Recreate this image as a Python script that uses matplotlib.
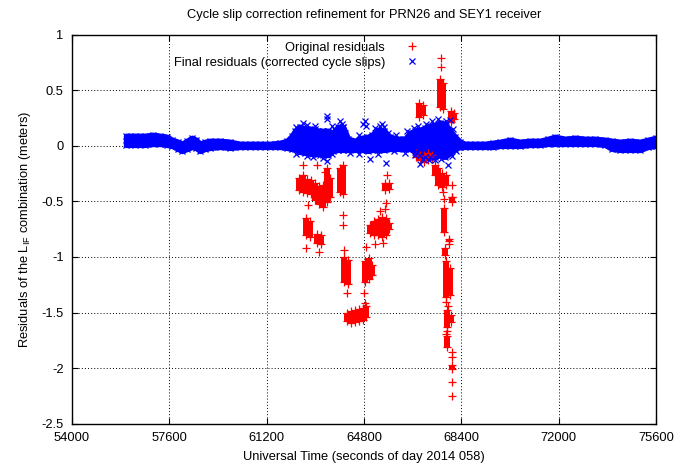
import numpy as np
import matplotlib
matplotlib.use("Agg")
import matplotlib.pyplot as plt

plt.rcParams['font.family'] = ['Liberation Sans', 'DejaVu Sans']
plt.rcParams['mathtext.fontset'] = 'custom'
plt.rcParams['mathtext.rm'] = 'Liberation Sans'
plt.rcParams['mathtext.it'] = 'Liberation Sans'

# ---- data ----------------------------------------------------------
# corrected residuals: band (time, upper, lower) in meters
t_band = [56000, 56330, 56700, 57000, 57255, 57514, 57700, 57920, 58070, 58254,
          58440, 58587, 58735, 58920, 59105, 59475, 59845, 60214, 60584, 60954,
          61324, 61694, 61953, 62138, 62249, 62434, 62619, 62878, 63100, 63284,
          63470, 63654, 63839, 64024, 64209, 64468, 64727, 64949, 65097, 65319,
          65541, 65763, 66059, 66318, 66503, 66688, 66873, 67058, 67243, 67428,
          67613, 67798, 67983, 68168, 68353, 68537, 68907, 69277, 69573, 69832,
          70202, 70572, 70941, 71311, 71607, 71866, 72236, 72606, 72976, 73346,
          73716, 73975, 74270, 74640, 75010, 75306, 75600]
hi_band = [0.090, 0.090, 0.090, 0.099, 0.090, 0.081, 0.054, 0.036, 0.018, 0.045,
           0.072, 0.054, 0.018, 0.036, 0.045, 0.045, 0.036, 0.018, 0.018, 0.018,
           0.018, 0.027, 0.045, 0.090, 0.135, 0.171, 0.153, 0.153, 0.135, 0.135,
           0.135, 0.117, 0.171, 0.171, 0.063, 0.045, 0.072, 0.081, 0.099, 0.144,
           0.135, 0.081, 0.063, 0.063, 0.117, 0.135, 0.144, 0.162, 0.180, 0.189,
           0.207, 0.198, 0.135, 0.081, 0.036, 0.018, 0.018, 0.018, 0.027, 0.036,
           0.054, 0.036, 0.045, 0.045, 0.063, 0.081, 0.063, 0.072, 0.063, 0.063,
           0.054, 0.045, 0.036, 0.045, 0.036, 0.054, 0.072]
lo_band = [0.009, 0.009, 0.009, 0.018, 0.018, 0.009, 0.000, -0.027, -0.045, -0.027,
           -0.009, -0.018, -0.045, -0.027, -0.018, -0.009, -0.018, -0.009, -0.009, -0.009,
           -0.009, -0.009, -0.018, -0.027, -0.027, -0.054, -0.063, -0.072, -0.072, -0.081,
           -0.081, -0.045, -0.036, -0.036, -0.036, -0.036, -0.036, -0.045, -0.036, -0.036,
           -0.036, -0.027, -0.027, -0.027, -0.027, -0.054, -0.081, -0.099, -0.099, -0.099,
           -0.081, -0.099, -0.063, -0.027, -0.009, -0.009, -0.009, -0.009, -0.009, 0.000,
           0.000, 0.000, 0.009, 0.009, 0.018, 0.018, 0.018, 0.018, 0.018, 0.018,
           0.009, -0.027, -0.036, -0.036, -0.036, -0.009, 0.000]

# corrected residuals: isolated points
t_fin_pts = [62545, 62989, 63432, 63432, 63987, 64024, 64838, 64875, 65393, 65541,
             63174, 63432, 65023, 65615, 67428, 67724, 67983, 66873, 67428, 67909,
             62300, 62700, 62800, 63000, 63250, 63600, 63700, 63900, 64100, 64600,
             64750, 65200, 65450, 65700, 66000, 66400, 66650, 66800, 67100, 67300,
             67550, 67850, 68100,
             62300, 62700, 62900, 63300, 63600, 64300, 64600, 65300, 65900, 66300,
             66700, 67000, 67200, 67650, 68050, 68200]
v_fin_pts = [0.21, 0.18, 0.27, 0.24, 0.20, 0.17, 0.22, 0.18, 0.18, 0.17,
             -0.08, -0.14, -0.12, -0.15, 0.19, 0.21, 0.23, -0.16, -0.13, -0.17,
             0.17, 0.19, 0.14, 0.15, 0.13, 0.18, 0.15, 0.22, 0.12, 0.10,
             0.20, 0.16, 0.20, 0.12, 0.10, 0.13, 0.16, 0.18, 0.20, 0.22,
             0.24, 0.22, 0.15,
             -0.07, -0.09, -0.10, -0.11, -0.07, -0.06, -0.07, -0.07, -0.05, -0.06,
             -0.08, -0.12, -0.13, -0.12, -0.09, -0.05]

# original residuals: dense vertical runs (time, top, bottom)
t_runs = [62400, 62545, 62693, 62841, 62989, 63137, 63284, 63432, 63543, 63913, 64024,
          62656, 62804, 63063, 63210, 64061, 64209,
          64172, 64320, 64468, 64616, 64764, 64875,
          64838, 64986, 65097,
          65023, 65171, 65319, 65467, 65615, 65726, 65578, 65726,
          66836, 66984, 67613, 67724, 68020, 68131,
          66725, 66873, 67021, 67169, 67317, 67428, 67539, 67687, 67835,
          68057, 67761, 67946, 67798, 67835, 67983, 67872, 68020, 67872, 68057]
top_runs = [-0.288, -0.261, -0.297, -0.306, -0.333, -0.360, -0.351, -0.198, -0.288, -0.198, -0.171,
            -0.649, -0.676, -0.793, -0.802, -1.000, -1.027,
            -1.505, -1.486, -1.477, -1.468, -1.459, -1.441,
            -1.036, -1.009, -1.072,
            -0.712, -0.676, -0.658, -0.640, -0.649, -0.694, -0.333, -0.333,
            0.387, 0.369, 0.604, 0.568, 0.315, 0.297,
            -0.063, -0.081, -0.081, -0.063, -0.081, -0.171, -0.198, -0.243, -0.261,
            -0.459, -0.559, -0.838, -0.919, -1.036, -1.099, -1.477, -1.523, -1.712, -1.973]
bot_runs = [-0.396, -0.414, -0.423, -0.432, -0.486, -0.523, -0.550, -0.505, -0.459, -0.414, -0.432,
            -0.802, -0.820, -0.874, -0.883, -1.225, -1.243,
            -1.577, -1.595, -1.586, -1.577, -1.568, -1.541,
            -1.225, -1.198, -1.162,
            -0.784, -0.802, -0.802, -0.820, -0.802, -0.748, -0.396, -0.387,
            0.261, 0.279, 0.351, 0.333, 0.216, 0.243,
            -0.099, -0.126, -0.144, -0.126, -0.117, -0.261, -0.351, -0.369, -0.351,
            -0.505, -0.775, -0.856, -0.982, -1.360, -1.342, -1.630, -1.586, -1.811, -2.009]

# original residuals: isolated points
t_orig_pts = [62545, 63063, 63358, 62730, 62656, 63137, 64024, 64024, 64061, 64172,
              64875, 64801, 64838, 65393, 65578, 65615, 65208, 65504, 65652,
              67650, 67650, 68057, 68057, 67724, 68057, 68057, 68057,
              67946, 67835, 67909, 67872, 67835, 68057, 67761]
v_orig_pts = [-0.171, -0.171, -0.234, -0.532, -0.919, -0.955, -0.622, -0.712, -0.937, -1.324,
              -0.910, -1.324, -1.414, -0.586, -0.568, -0.514, -0.883, -0.874, -0.261,
              0.793, 0.712, -0.351, -0.459, -0.414, -1.856, -2.126, -2.252,
              -0.885, -1.405, -1.440, -1.665, -1.690, -1.900, -0.480]

xticks = [54000, 57600, 61200, 64800, 68400, 72000, 75600]
yticks = [1, 0.5, 0, -0.5, -1, -1.5, -2, -2.5]
ytick_labels = ['1', '0.5', '0', '-0.5', '-1', '-1.5', '-2', '-2.5']

# ---- figure ---------------------------------------------------------
fig = plt.figure(figsize=(6.91, 4.66), dpi=100)
ax = fig.add_axes([72/691, 1 - 423.7/466, 584/691, 389/466])

RED = '#ff0000'
BLUE = '#0000ff'
ms = 5.2
mw = 0.9

# original residuals (drawn first, under the corrected ones)
ax.vlines(t_runs, bot_runs, top_runs, color=RED, lw=4.3)
ax.plot(t_runs, top_runs, '+', color=RED, ms=ms, mew=mw)
ax.plot(t_runs, bot_runs, '+', color=RED, ms=ms, mew=mw)
ax.plot(t_orig_pts, v_orig_pts, '+', color=RED, ms=ms, mew=mw,
        label='Original residuals')

# corrected residuals
ax.fill_between(t_band, lo_band, hi_band, facecolor=BLUE, edgecolor=BLUE, lw=4.0)
ax.plot(t_band, hi_band, 'x', color=BLUE, ms=ms*0.9, mew=mw)
ax.plot(t_band, lo_band, 'x', color=BLUE, ms=ms*0.9, mew=mw)
ax.plot(t_fin_pts, v_fin_pts, 'x', color=BLUE, ms=ms*0.9, mew=mw,
        label='Final residuals (corrected cycle slips)')

ax.set_xlim(54000, 75600)
ax.set_ylim(-2.5, 1)
ax.set_xticks(xticks)
ax.set_xticklabels([str(x) for x in xticks])
ax.set_yticks(yticks)
ax.set_yticklabels(ytick_labels)
ax.tick_params(direction='in', length=4.5, width=0.8, top=True, right=True,
               labelsize=9.3, pad=6)
ax.grid(True, color='black', lw=0.7, linestyle=(0, (1, 2.2)))
ax.set_axisbelow(True)
for s in ax.spines.values():
    s.set_linewidth(1.0)

ax.set_title('Cycle slip correction refinement for PRN26 and SEY1 receiver',
             fontsize=9.3, pad=12)
ax.set_xlabel('Universal Time (seconds of day 2014 058)', fontsize=9.3, labelpad=5)
ax.set_ylabel(r'Residuals of the L$_{\mathrm{IF}}$ combination (meters)',
              fontsize=9.3, labelpad=6)

ax.legend(loc='upper right', bbox_to_anchor=(0.589, 0.982), markerfirst=False,
          frameon=False, fontsize=9.3, numpoints=1, handlelength=0.6,
          handletextpad=1.8, borderpad=0, borderaxespad=0, labelspacing=0.25)

fig.savefig('out.png', dpi=100)
